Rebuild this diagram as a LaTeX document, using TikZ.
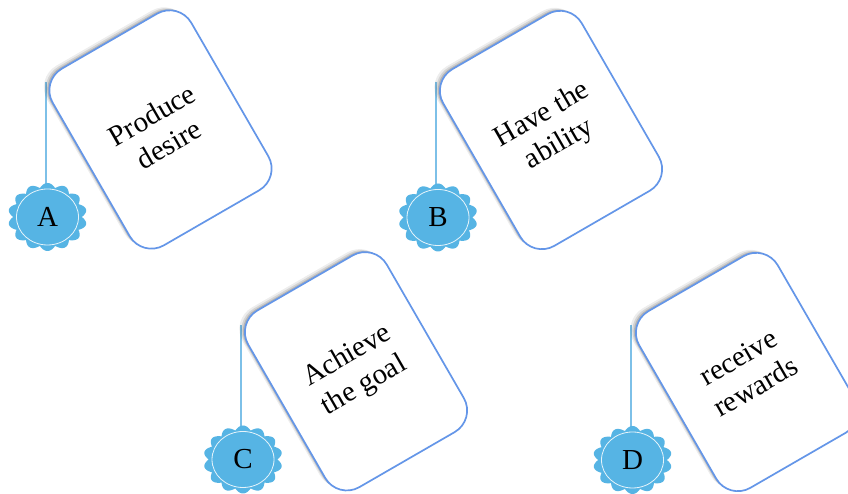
\documentclass[tikz,border=0pt]{standalone}
\usepackage{fontspec}
\setmainfont{Liberation Serif}
\usetikzlibrary{shadows,shapes.geometric,backgrounds}
\definecolor{cardblue}{RGB}{100,150,232}
\definecolor{badgeblue}{RGB}{86,180,228}
\definecolor{linkblue}{RGB}{125,192,232}
\tikzset{
  card/.style={draw=cardblue, line width=1.7pt, fill=white, rounded corners=25pt,
    minimum width=160pt, minimum height=204pt, rotate=30, align=center,
    font=\fontsize{29}{34}\selectfont, inner sep=0pt,
    general shadow={fill=black, opacity=0.07, shadow xshift=-5.5pt, shadow yshift=3pt},
    general shadow={fill=black, opacity=0.10, shadow xshift=-3.5pt, shadow yshift=2pt},
    general shadow={fill=black, opacity=0.14, shadow xshift=-2pt, shadow yshift=1pt}},
  badgecore/.style={ellipse, minimum width=62pt, minimum height=56pt, draw=white,
    draw opacity=0.85, line width=0.8pt, font=\fontsize{29}{30}\selectfont, inner sep=0pt},
  link/.style={draw=linkblue, line width=1.8pt},
  scallop/.style={fill=badgeblue},
}
\begin{document}
\begin{tikzpicture}[x=1pt,y=1pt]
\clip (0,0) rectangle (848,494);
% cards
\node[card] (cA) at (160.5,364.5) {Produce\\desire};
\node[card] (cB) at (551,364) {Have the\\ability};
\node[card] (cC) at (356,122.7) {Achieve\\the goal};
\node[card] (cD) at (747,122) {receive\\rewards};
% badges
\node[badgecore] (bA) at (47.5,277) {A};
\node[badgecore] (bB) at (438,276.5) {B};
\node[badgecore] (bC) at (243,34.5) {C};
\node[badgecore] (bD) at (632.5,34) {D};
% link tops
\coordinate (lA) at (45.7,412);
\coordinate (lB) at (435.7,412);
\coordinate (lC) at (241,169);
\coordinate (lD) at (630.7,169);
\begin{scope}[on background layer]
  \fill[white] (0,0) rectangle (848,494);
  \foreach \n in {A,B,C,D}{
    \draw[link] (l\n) -- (l\n |- b\n.center);
    \fill[scallop, shift={(b\n.center)}] plot[domain=0:360, samples=281]
      ({39.5*(0.87+0.13*abs(sin(7*\x)))*cos(\x)},{34*(0.87+0.13*abs(sin(7*\x)))*sin(\x)}) -- cycle;
  }
\end{scope}
\end{tikzpicture}
\end{document}
